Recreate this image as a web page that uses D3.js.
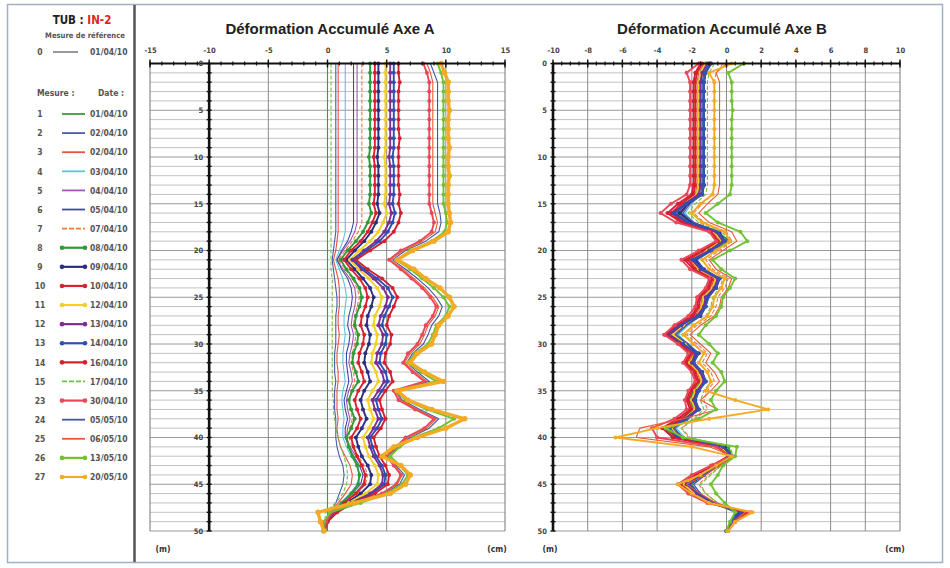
<!DOCTYPE html>
<html><head><meta charset="utf-8">
<script src="https://cdn.jsdelivr.net/npm/d3@7"></script>
<style>
body{margin:0;background:#fff;}
svg{display:block;}
.nar{font-family:"DejaVu Sans Condensed","Liberation Sans Narrow","Arial Narrow",sans-serif;font-weight:bold;}
.ttl{font-family:"Liberation Sans",Arial,sans-serif;font-weight:bold;}
</style>
</head><body>
<svg id="c" width="950" height="568"></svg>
<script>
// ---------- DATA ----------
const depths = [0,1,2,3,4,5,6,7,8,9,10,11,12,13,14,15,16,17,18,19,20,21,22,23,24,25,26,27,28,29,30,31,32,33,34,35,36,37,38,39,40,41,42,43,44,45,46,47,48,49,50];
const depthTicks = [0,5,10,15,20,25,30,35,40,45,50];
const ticksA = [-15,-10,-5,0,5,10,15];
const ticksB = [-10,-8,-6,-4,-2,0,2,4,6,8,10];
const seriesIds = [1,2,3,4,5,6,7,8,9,10,11,12,13,14,15,23,24,25,26,27];
const seriesDates = ["01/04/10","02/04/10","02/04/10","03/04/10","04/04/10","05/04/10","07/04/10","08/04/10","09/04/10","10/04/10","12/04/10","13/04/10","14/04/10","16/04/10","17/04/10","30/04/10","05/05/10","06/05/10","13/05/10","20/05/10"];
const seriesColors = ["#3c9a3c","#4b5bb0","#e8553a","#5cc6d6","#a455b4","#3d4ba6","#f07a3c","#2f9a3a","#2a2f80","#d8222e","#f2d024","#7e2f8c","#2f4fb2","#d41f32","#6cc244","#e8485a","#4453ac","#e85a34","#72c234","#f4aa23"];
const seriesMarkers = [false,false,false,false,false,false,false,true,true,true,true,true,true,true,false,true,false,false,true,true];
const seriesDashed = [false,false,false,false,false,false,true,false,false,false,false,false,false,false,true,false,false,false,false,false];

// Axe A values (cm) per depth 0..50 m
const a01 = [0,0,0,0,0,0,0,0,0,0, 0,0,0,0,0,0,0,0,0,0, 0,0,0,0,0,0,0,0,0,0, 0,0,0,0,0,0,0,0,0,0, 0,0,0,0,0,0,0,0,0,0, 0];
const a02 = [0.7,0.7,0.7,0.7,0.7,0.7,0.7,0.7,0.7,0.7, 0.7,0.7,0.7,0.7,0.7,0.7,0.7,0.7,0.7,0.6, 0.5,0.4,0.5,0.6,0.7,0.8,0.8,0.7,0.7,0.7, 0.7,0.6,0.6,0.6,0.7,0.6,0.6,0.6,0.7,0.7, 0.7,0.8,1.0,1.3,1.4,1.3,1.0,0.7,0.3,0.0, -0.1];
const a03 = [0.9,0.9,0.9,0.9,0.9,0.9,0.9,0.9,0.9,0.9, 0.9,0.9,0.9,0.9,0.9,0.9,0.9,0.9,0.9,0.8, 0.7,0.5,0.7,0.9,1.0,1.0,1.0,0.9,0.9,1.0, 0.9,0.8,0.8,0.9,0.9,0.8,0.8,0.8,0.9,0.8, 0.9,1.1,1.5,1.9,2.1,2.0,1.5,0.9,0.3,-0.1, -0.2];
const a04 = [1.5,1.5,1.5,1.5,1.5,1.5,1.5,1.5,1.5,1.5, 1.5,1.5,1.5,1.5,1.5,1.5,1.5,1.5,1.5,1.3, 1.0,0.7,1.0,1.3,1.5,1.6,1.5,1.4,1.4,1.5, 1.4,1.3,1.3,1.4,1.5,1.3,1.2,1.3,1.4,1.3, 1.3,1.6,2.0,2.5,2.7,2.5,1.9,1.1,0.4,0.0, -0.2];
const a05 = [2.5,2.5,2.5,2.5,2.5,2.5,2.5,2.5,2.5,2.5, 2.5,2.5,2.5,2.5,2.5,2.5,2.5,2.5,2.3,1.9, 1.3,0.8,1.3,1.9,2.3,2.4,2.3,2.1,2.0,2.2, 2.1,1.9,1.8,2.0,2.1,1.8,1.6,1.7,1.9,1.7, 1.6,1.9,2.4,2.9,3.2,3.0,2.3,1.3,0.5,0.0, -0.2];
const a06 = [2.2,2.2,2.2,2.2,2.2,2.2,2.2,2.2,2.2,2.2, 2.2,2.2,2.2,2.2,2.2,2.2,2.2,2.2,2.0,1.7, 1.2,0.8,1.2,1.7,2.0,2.1,2.0,1.8,1.7,1.9, 1.8,1.6,1.6,1.7,1.8,1.6,1.4,1.5,1.7,1.5, 1.5,1.8,2.2,2.7,3.0,2.8,2.1,1.2,0.4,0.0, -0.2];
const a07 = [2.9,2.9,2.9,2.9,2.9,2.9,2.9,2.9,2.9,2.9, 2.9,2.9,2.9,2.9,2.9,2.9,2.9,2.9,2.6,2.1, 1.5,0.9,1.5,2.1,2.5,2.7,2.5,2.3,2.2,2.4, 2.3,2.1,2.0,2.2,2.3,2.0,1.8,1.9,2.1,1.9, 1.8,2.1,2.6,3.1,3.4,3.2,2.5,1.4,0.5,0.0, -0.2];
const a08 = [3.6,3.6,3.6,3.6,3.6,3.6,3.6,3.6,3.6,3.6, 3.5,3.6,3.6,3.6,3.6,3.5,3.7,3.4,3.0,2.4, 1.7,1.1,1.6,2.2,2.7,2.9,2.7,2.4,2.3,2.6, 2.5,2.2,2.1,2.4,2.6,2.1,1.8,2.0,2.3,2.0, 1.6,1.8,2.1,2.5,2.7,2.6,2.0,1.2,0.4,-0.1, -0.3];
const a09 = [4.3,4.3,4.3,4.3,4.3,4.3,4.3,4.3,4.3,4.3, 4.2,4.3,4.3,4.3,4.3,4.2,4.4,4.1,3.7,3.1, 2.3,1.6,2.3,3.0,3.6,3.9,3.7,3.4,3.3,3.6, 3.5,3.2,3.1,3.4,3.6,3.1,2.8,3.0,3.3,2.9, 2.4,2.6,2.9,3.4,3.7,3.6,2.8,1.6,0.6,-0.1, -0.3];
const a10 = [4.0,4.0,4.0,4.0,4.0,4.0,4.0,4.0,4.0,4.0, 3.9,4.0,4.0,4.0,4.0,3.9,4.1,3.8,3.4,2.8, 2.0,1.4,2.0,2.7,3.2,3.4,3.2,2.9,2.8,3.1, 3.0,2.7,2.6,2.9,3.1,2.6,2.3,2.5,2.8,2.5, 2.0,2.2,2.5,2.9,3.2,3.1,2.4,1.4,0.5,-0.1, -0.3];
const a11 = [4.9,4.9,4.9,4.9,4.9,4.9,4.9,4.9,4.9,4.9, 4.8,4.9,4.9,4.9,4.9,4.8,5.0,4.7,4.3,3.6, 2.7,1.9,2.6,3.5,4.2,4.6,4.4,4.0,3.9,4.2, 4.1,3.8,3.7,4.1,4.3,3.8,3.4,3.6,3.9,3.5, 3.0,3.2,3.5,4.0,4.3,4.2,3.2,1.8,0.7,0.0, -0.3];
const a12 = [5.3,5.3,5.3,5.3,5.3,5.3,5.3,5.3,5.3,5.3, 5.2,5.3,5.3,5.3,5.3,5.2,5.4,5.2,4.8,4.1, 3.1,2.1,2.9,3.9,4.7,5.1,4.9,4.5,4.3,4.7, 4.6,4.2,4.1,4.6,4.8,4.3,3.8,4.0,4.3,3.9, 3.4,3.6,3.9,4.4,4.7,4.6,3.6,2.0,0.7,0.0, -0.3];
const a13 = [5.6,5.6,5.6,5.6,5.6,5.6,5.6,5.6,5.6,5.6, 5.5,5.6,5.6,5.6,5.6,5.5,5.7,5.5,5.1,4.4, 3.3,2.2,3.1,4.2,5.1,5.5,5.2,4.8,4.6,5.0, 4.9,4.5,4.4,4.9,5.1,4.6,4.1,4.3,4.6,4.2, 3.6,3.8,4.1,4.6,4.9,4.8,3.8,2.1,0.8,0.0, -0.3];
const a14 = [6.0,6.0,6.1,6.0,6.0,6.0,6.0,6.0,6.1,6.0, 6.0,6.0,6.0,6.0,6.1,6.0,6.2,6.0,5.6,4.8, 3.6,2.4,3.4,4.6,5.5,5.9,5.6,5.2,5.0,5.4, 5.3,4.9,4.8,5.3,5.5,4.9,4.4,4.6,4.9,4.5, 3.9,4.1,4.4,4.9,5.2,5.1,4.0,2.2,0.8,0.0, -0.3];
const a15 = [0.3,0.3,0.3,0.3,0.3,0.3,0.3,0.3,0.3,0.3, 0.3,0.3,0.3,0.3,0.3,0.3,0.3,0.3,0.3,0.3, 0.3,0.3,0.3,0.4,0.4,0.4,0.4,0.4,0.4,0.4, 0.4,0.4,0.4,0.4,0.4,0.4,0.5,0.5,0.6,0.7, 0.9,1.1,1.4,1.6,1.7,1.6,1.3,0.7,-0.2,-0.2, -0.1];
const a23 = [8.1,8.4,8.6,8.6,8.6,8.6,8.6,8.6,8.6,8.6, 8.6,8.6,8.6,8.6,8.6,8.6,8.8,9.0,8.8,7.8, 6.2,5.2,6.2,7.1,8.0,8.7,9.2,8.9,8.3,8.0, 7.6,6.8,6.4,7.2,8.2,5.6,6.0,7.4,9.0,8.2, 6.6,5.8,5.0,5.6,6.2,5.8,4.6,2.4,0.4,-0.1, -0.3];
const a24 = [8.7,9.0,9.3,9.3,9.3,9.3,9.3,9.3,9.3,9.3, 9.3,9.3,9.3,9.3,9.3,9.3,9.5,9.6,9.4,8.3, 6.6,5.5,6.6,7.6,8.5,9.2,9.7,9.4,8.8,8.5, 8.1,7.2,6.7,7.6,8.6,5.8,6.3,7.8,9.4,8.6, 7.0,6.0,5.1,5.8,6.5,6.1,4.8,2.6,0.5,-0.1, -0.3];
const a25 = [8.4,8.7,8.9,8.9,8.9,8.9,8.9,8.9,8.9,8.9, 8.9,8.9,8.9,8.9,8.9,8.9,9.1,9.3,9.1,8.0, 6.4,5.3,6.4,7.3,8.2,8.9,9.4,9.1,8.5,8.2, 7.8,7.0,6.5,7.4,8.4,5.7,6.2,7.6,9.2,8.4, 6.8,5.9,5.0,5.7,6.3,5.9,4.7,2.5,0.4,-0.1, -0.3];
const a26 = [9.3,9.6,9.8,9.8,9.8,9.8,9.8,9.8,9.8,9.8, 9.8,9.8,9.8,9.8,9.8,9.8,10.0,10.1,9.9,8.8, 7.0,5.8,7.0,8.0,9.0,9.8,10.3,10.0,9.2,8.9, 8.5,7.4,6.8,7.9,9.2,5.8,6.6,8.4,10.7,9.4, 7.3,6.1,5.3,6.1,6.8,6.3,5.0,2.8,0.2,-0.3, -0.4];
const a27 = [9.6,9.9,10.2,10.2,10.2,10.3,10.2,10.2,10.2,10.3, 10.2,10.2,10.3,10.2,10.2,10.2,10.3,10.4,10.2,9.0, 7.2,5.9,7.3,8.3,9.5,10.3,10.7,10.2,9.4,9.1, 8.8,7.6,7.0,8.2,9.8,5.9,6.8,8.8,11.6,10.0, 7.6,5.6,4.6,6.2,7.0,6.6,5.3,2.2,-0.8,-0.6, -0.3];

// Axe B values (cm) per depth 0..50 m
const b01 = [-1.2,-1.5,-1.6,-1.6,-1.6,-1.6,-1.6,-1.6,-1.6,-1.6, -1.6,-1.6,-1.6,-1.6,-1.7,-2.2,-2.6,-2.1,-0.9,-0.4, -1.1,-1.8,-1.5,-0.7,-0.9,-1.3,-1.4,-1.6,-2.3,-2.8, -2.3,-1.8,-2.0,-1.6,-1.4,-1.8,-2.0,-1.8,-2.3,-3.0, -2.6,-0.3,0.1,-0.6,-1.4,-2.0,-1.6,-0.8,0.5,0.3, 0.0];
const b02 = [-1.1,-1.4,-1.5,-1.5,-1.5,-1.5,-1.5,-1.5,-1.5,-1.5, -1.5,-1.5,-1.5,-1.5,-1.6,-2.2,-2.6,-2.0,-0.7,-0.3, -1.0,-1.8,-1.4,-0.6,-0.8,-1.2,-1.3,-1.6,-2.4,-3.0, -2.3,-1.7,-2.0,-1.5,-1.3,-1.7,-1.9,-1.7,-2.3,-3.1, -2.6,-0.2,0.2,-0.5,-1.3,-2.1,-1.6,-0.7,0.6,0.3, 0.0];
const b03 = [-1.3,-1.6,-1.7,-1.7,-1.7,-1.7,-1.7,-1.7,-1.7,-1.7, -1.7,-1.7,-1.7,-1.7,-1.8,-2.5,-3.0,-2.3,-0.8,-0.4, -1.2,-2.1,-1.7,-0.7,-0.9,-1.4,-1.5,-1.8,-2.6,-3.2, -2.5,-1.9,-2.2,-1.7,-1.5,-1.9,-2.1,-1.9,-2.5,-3.3, -2.8,-0.3,0.2,-0.6,-1.5,-2.4,-1.8,-0.8,0.8,0.4, 0.0];
const b04 = [-1.0,-1.3,-1.4,-1.4,-1.4,-1.4,-1.4,-1.4,-1.4,-1.4, -1.4,-1.4,-1.4,-1.4,-1.5,-2.0,-2.4,-1.9,-0.6,-0.2, -0.9,-1.7,-1.3,-0.5,-0.7,-1.1,-1.2,-1.5,-2.2,-2.8, -2.2,-1.6,-1.9,-1.4,-1.2,-1.6,-1.8,-1.6,-2.2,-2.9, -2.4,-0.2,0.2,-0.5,-1.2,-1.9,-1.5,-0.7,0.5,0.3, 0.0];
const b05 = [-1.1,-1.4,-1.5,-1.5,-1.5,-1.5,-1.5,-1.5,-1.5,-1.5, -1.5,-1.5,-1.5,-1.5,-1.6,-2.3,-2.8,-2.1,-0.7,-0.3, -1.1,-1.9,-1.5,-0.6,-0.8,-1.2,-1.4,-1.7,-2.5,-3.1, -2.4,-1.8,-2.1,-1.6,-1.4,-1.8,-2.0,-1.8,-2.4,-3.2, -2.7,-0.3,0.2,-0.6,-1.4,-2.2,-1.7,-0.8,0.6,0.3, 0.0];
const b06 = [-1.0,-1.3,-1.4,-1.4,-1.4,-1.4,-1.4,-1.4,-1.4,-1.4, -1.4,-1.4,-1.4,-1.4,-1.5,-2.2,-2.7,-2.0,-0.6,-0.2, -1.0,-1.8,-1.4,-0.5,-0.7,-1.1,-1.3,-1.6,-2.4,-3.0, -2.3,-1.7,-2.0,-1.5,-1.3,-1.7,-1.9,-1.7,-2.3,-3.1, -2.6,-0.2,0.3,-0.5,-1.3,-2.1,-1.6,-0.7,0.6,0.3, 0.0];
const b07 = [-0.2,-0.6,-0.7,-0.7,-0.7,-0.7,-0.7,-0.7,-0.7,-0.7, -0.7,-0.7,-0.7,-0.7,-0.8,-1.4,-1.9,-1.3,0.0,0.3, -0.4,-1.2,-0.8,0.1,-0.1,-0.5,-0.6,-0.9,-1.7,-2.3, -1.7,-1.1,-1.4,-0.9,-0.7,-1.1,-1.3,-1.1,-1.8,-2.6, -2.1,0.0,0.4,-0.3,-1.0,-1.6,-1.2,-0.5,0.7,0.4, 0.1];
const b08 = [-1.2,-1.5,-1.6,-1.6,-1.6,-1.6,-1.6,-1.6,-1.6,-1.6, -1.6,-1.6,-1.6,-1.6,-1.7,-2.4,-2.9,-2.2,-0.6,0.2, -0.9,-1.9,-1.5,-0.5,-0.8,-1.3,-1.4,-1.7,-2.6,-3.2, -2.5,-1.8,-2.1,-1.6,-1.4,-1.9,-2.1,-1.8,-2.6,-3.6, -3.0,0.1,0.3,-0.6,-1.5,-2.3,-1.7,-0.8,0.8,0.4, 0.0];
const b09 = [-0.9,-1.2,-1.3,-1.3,-1.3,-1.3,-1.3,-1.3,-1.3,-1.3, -1.3,-1.3,-1.3,-1.3,-1.4,-2.2,-2.7,-2.0,-0.4,-0.1, -0.9,-1.8,-1.3,-0.4,-0.6,-1.1,-1.2,-1.5,-2.5,-3.3, -2.4,-1.6,-1.9,-1.4,-1.2,-1.6,-1.8,-1.6,-2.3,-3.2, -2.7,-0.1,0.3,-0.5,-1.3,-2.2,-1.6,-0.7,0.7,0.3, 0.0];
const b10 = [-1.4,-1.7,-1.8,-1.8,-1.8,-1.8,-1.8,-1.8,-1.8,-1.8, -1.8,-1.8,-1.8,-1.8,-1.9,-2.6,-3.2,-2.5,-0.9,-0.5, -1.3,-2.2,-1.8,-0.8,-1.0,-1.5,-1.6,-1.9,-2.7,-3.3, -2.6,-2.0,-2.3,-1.8,-1.6,-2.0,-2.2,-2.0,-2.6,-3.4, -2.9,-0.4,0.1,-0.8,-1.7,-2.6,-2.0,-1.0,1.0,0.4, 0.0];
const b11 = [-1.2,-1.5,-1.6,-1.6,-1.6,-1.6,-1.6,-1.6,-1.6,-1.6, -1.6,-1.6,-1.6,-1.6,-1.7,-2.4,-3.0,-2.3,-0.7,-0.3, -1.1,-2.0,-1.6,-0.6,-0.8,-1.3,-1.4,-1.7,-2.5,-3.1, -2.4,-1.8,-2.1,-1.6,-1.4,-1.8,-2.0,-1.8,-2.4,-3.2, -2.7,-0.3,0.2,-0.7,-1.5,-2.4,-1.8,-0.9,0.9,0.4, 0.0];
const b12 = [-1.1,-1.4,-1.5,-1.5,-1.5,-1.5,-1.5,-1.5,-1.5,-1.5, -1.5,-1.5,-1.5,-1.5,-1.6,-2.4,-3.1,-2.3,-0.6,-0.2, -1.0,-2.0,-1.5,-0.5,-0.7,-1.2,-1.3,-1.7,-2.6,-3.3, -2.5,-1.8,-2.0,-1.5,-1.3,-1.7,-1.9,-1.7,-2.4,-3.3, -2.8,-0.2,0.3,-0.6,-1.4,-2.3,-1.7,-0.8,0.9,0.4, 0.0];
const b13 = [-0.9,-1.2,-1.3,-1.3,-1.3,-1.3,-1.3,-1.3,-1.3,-1.3, -1.3,-1.3,-1.3,-1.3,-1.4,-2.3,-3.0,-2.2,-0.5,-0.1, -0.9,-1.9,-1.4,-0.4,-0.6,-1.1,-1.2,-1.6,-2.7,-3.5, -2.5,-1.7,-1.9,-1.4,-1.2,-1.6,-1.8,-1.6,-2.3,-3.3, -2.8,-0.2,0.3,-0.5,-1.3,-2.2,-1.6,-0.7,0.8,0.3, 0.0];
const b14 = [-1.5,-1.8,-1.9,-1.9,-1.9,-1.9,-1.9,-1.9,-1.9,-1.9, -1.9,-1.9,-1.9,-1.9,-2.0,-2.8,-3.4,-2.6,-0.9,-0.5, -1.4,-2.4,-1.9,-0.9,-1.1,-1.6,-1.7,-2.0,-2.9,-3.5, -2.7,-2.1,-2.4,-1.9,-1.7,-2.1,-2.3,-2.1,-2.8,-3.7, -3.1,-0.5,0.1,-0.8,-1.8,-2.7,-2.1,-1.0,1.2,0.5, 0.0];
const b15 = [-0.7,-1.0,-1.1,-1.1,-1.1,-1.1,-1.1,-1.1,-1.1,-1.1, -1.1,-1.1,-1.1,-1.1,-1.2,-1.8,-2.2,-1.6,-0.3,0.3, -0.6,-1.4,-1.0,-0.2,-0.4,-0.8,-0.9,-1.2,-1.9,-2.4, -1.9,-1.3,-1.6,-1.1,-0.9,-1.3,-1.5,-1.3,-1.9,-2.6, -2.2,0.2,0.4,-0.3,-0.9,-1.5,-1.2,-0.5,0.6,0.3, 0.0];
const b23 = [-1.6,-2.3,-2.1,-2.1,-2.1,-2.1,-2.1,-2.1,-2.1,-2.1, -2.1,-2.1,-2.1,-2.1,-2.3,-3.2,-3.8,-2.9,-1.0,-0.6, -1.6,-2.6,-2.1,-1.0,-1.2,-1.7,-1.8,-2.2,-3.0,-3.6, -2.8,-2.2,-2.5,-2.0,-1.8,-2.2,-2.4,-2.3,-3.0,-4.3, -4.0,-0.6,0.2,-0.9,-2.0,-2.8,-2.2,-1.1,1.4,0.5, 0.1];
const b24 = [-1.0,-1.2,-1.3,-1.3,-1.3,-1.3,-1.3,-1.3,-1.3,-1.3, -1.3,-1.3,-1.3,-1.3,-1.4,-2.1,-2.5,-1.9,-0.5,-0.1, -0.8,-1.7,-1.3,-0.4,-0.6,-1.0,-1.2,-1.5,-2.3,-2.9, -2.2,-1.6,-1.9,-1.4,-1.2,-1.6,-1.8,-1.6,-2.2,-3.0, -2.5,-0.2,0.2,-0.5,-1.2,-1.9,-1.5,-0.7,0.6,0.3, 0.0];
const b25 = [0.0,-0.6,-0.4,-0.4,-0.4,-0.4,-0.4,-0.4,-0.4,-0.4, -0.4,-0.4,-0.4,-0.4,-0.5,-1.1,-1.6,-1.0,0.3,0.6, -0.2,-1.0,-0.6,0.3,0.1,-0.3,-0.4,-0.7,-1.5,-2.1, -1.5,-0.9,-1.2,-0.7,-0.4,-0.9,-1.5,-0.5,-2.5,-5.0, -5.2,-1.0,0.4,-0.4,-1.2,-2.3,-1.5,-0.6,1.1,0.4, 0.1];
const b26 = [1.0,0.1,0.3,0.3,0.3,0.35,0.3,0.3,0.3,0.3, 0.3,0.3,0.3,0.3,0.2,-0.5,-1.2,-0.5,0.8,1.2, 0.2,-0.8,-0.3,0.5,0.2,-0.2,-0.3,-0.6,-1.2,-1.6, -1.0,-0.5,-0.8,-0.3,-0.1,-0.6,-0.9,-0.6,-1.6,-3.5, -2.5,0.6,0.5,-0.2,-0.5,-0.9,-0.6,-0.1,0.5,0.2, 0.0];
const b27 = [0.3,-1.0,-0.7,-0.7,-0.7,-0.7,-0.7,-0.7,-0.7,-0.7, -0.7,-0.7,-0.7,-0.7,-0.8,-1.5,-2.0,-1.4,-0.1,0.2, -0.6,-1.4,-1.0,-0.1,-0.3,-0.7,-0.8,-1.1,-1.9,-2.5, -1.9,-1.3,-1.6,-1.1,-0.9,-1.2,0.5,2.4,-1.0,-4.0, -6.4,-2.0,0.3,-0.6,-1.5,-2.8,-2.0,-1.0,1.5,0.5, 0.1];

const valuesA = [a01,a02,a03,a04,a05,a06,a07,a08,a09,a10,a11,a12,a13,a14,a15,a23,a24,a25,a26,a27];
const valuesB = [b01,b02,b03,b04,b05,b06,b07,b08,b09,b10,b11,b12,b13,b14,b15,b23,b24,b25,b26,b27];

// ---------- DRAW ----------
const svg = d3.select("#c");
svg.append("rect").attr("x",7.5).attr("y",4.5).attr("width",935).attr("height",558)
  .attr("fill","none").attr("stroke","#9fb1c3").attr("stroke-width",1.5);
svg.append("line").attr("x1",134.5).attr("x2",134.5).attr("y1",5).attr("y2",562)
  .attr("stroke","#555").attr("stroke-width",2.5);

// Legend
const lg = svg.append("g").attr("class","nar");
const t1 = lg.append("text").attr("x",82).attr("y",24).attr("text-anchor","middle").attr("font-size",11.5).attr("fill","#222");
t1.append("tspan").text("TUB : ");
t1.append("tspan").attr("fill","#e0231e").text("IN-2");
lg.append("text").attr("x",85).attr("y",38).attr("text-anchor","middle").attr("font-size",7.6).attr("fill","#555").text("Mesure de référence");
lg.append("text").attr("x",40).attr("y",55).attr("text-anchor","middle").attr("font-size",8.5).attr("fill","#555").text("0");
lg.append("line").attr("x1",53).attr("x2",78).attr("y1",52).attr("y2",52).attr("stroke","#555").attr("stroke-width",1.2);
lg.append("text").attr("x",90).attr("y",55).attr("font-size",8.5).attr("fill","#555").text("01/04/10");
lg.append("text").attr("x",37).attr("y",96).attr("font-size",8.5).attr("fill","#555").text("Mesure :");
lg.append("text").attr("x",98).attr("y",96).attr("font-size",8.5).attr("fill","#555").text("Date :");
const ly = d3.scaleLinear().domain([0,19]).range([114,477]);
const items = lg.selectAll("g.it").data(seriesIds).join("g").attr("transform",(d,i)=>`translate(0,${ly(i)})`);
items.append("text").attr("x",40).attr("y",3.2).attr("text-anchor","middle").attr("font-size",8.5).attr("fill","#555").text(d=>d);
items.append("line").attr("x1",62).attr("x2",85).attr("y1",0).attr("y2",0)
  .attr("stroke",(d,i)=>seriesColors[i]).attr("stroke-width",(d,i)=>seriesMarkers[i]?2.2:1.8)
  .attr("stroke-dasharray",(d,i)=>seriesDashed[i]?"5,2":null);
items.filter((d,i)=>seriesMarkers[i]).each(function(d){
  const i = seriesIds.indexOf(d);
  d3.select(this).selectAll("circle").data([62,85]).join("circle").attr("cx",v=>v).attr("cy",0).attr("r",2.3).attr("fill",seriesColors[i]);
});
items.append("text").attr("x",90).attr("y",3.2).attr("font-size",8.5).attr("fill","#555").text((d,i)=>seriesDates[i]);

function panel(cfg){
  const x = d3.scaleLinear().domain(cfg.domain).range(cfg.range);
  const y = d3.scaleLinear().domain([0,50]).range([63.5,531]);
  const g = svg.append("g");
  g.selectAll("line.h").data(depths.filter(d=>d>0)).join("line")
    .attr("x1",cfg.range[0]).attr("x2",cfg.range[1]).attr("y1",d=>y(d)).attr("y2",d=>y(d))
    .attr("stroke",d=>d%5===0?"#9a9a9a":"#c2c2c2").attr("stroke-width",1);
  g.selectAll("line.v").data(cfg.grid).join("line")
    .attr("x1",d=>x(d)).attr("x2",d=>x(d)).attr("y1",y(0)).attr("y2",y(50))
    .attr("stroke","#8a8a8a").attr("stroke-width",1);
  g.append("line").attr("x1",cfg.range[0]).attr("x2",cfg.range[0]).attr("y1",y(0)).attr("y2",y(50)).attr("stroke","#777").attr("stroke-width",1);
  g.append("line").attr("x1",cfg.range[1]).attr("x2",cfg.range[1]).attr("y1",y(0)).attr("y2",y(50)).attr("stroke","#777").attr("stroke-width",1);
  const line = d3.line().x(v=>x(v)).y((v,i)=>y(depths[i]));
  cfg.values.forEach((vals,i)=>{
    const thick = cfg.thick.includes(i);
    g.append("path").attr("d",line(vals)).attr("fill","none")
      .attr("stroke",seriesColors[i])
      .attr("stroke-width",thick?3.4:(seriesMarkers[i]?1.9:1.1))
      .attr("stroke-dasharray",seriesDashed[i]?"4,2":null)
      .attr("stroke-linejoin","round");
    if(seriesMarkers[i]){
      g.selectAll(null).data(vals).join("circle")
        .attr("cx",v=>x(v)).attr("cy",(v,k)=>y(depths[k])).attr("r",thick?2.7:2.0)
        .attr("fill",seriesColors[i]);
    }
  });
  g.append("line").attr("x1",cfg.range[0]).attr("x2",cfg.range[1]).attr("y1",y(0)).attr("y2",y(0)).attr("stroke","#111").attr("stroke-width",2);
  g.selectAll("line.mt").data(cfg.minor).join("line")
    .attr("x1",d=>x(d)).attr("x2",d=>x(d)).attr("y1",y(0)-2).attr("y2",y(0)+2).attr("stroke","#111").attr("stroke-width",1.2);
  g.selectAll("line.Mt").data(cfg.ticks).join("line")
    .attr("x1",d=>x(d)).attr("x2",d=>x(d)).attr("y1",y(0)-4).attr("y2",y(0)+4).attr("stroke","#111").attr("stroke-width",1.4);
  const ax = g.append("g").attr("transform",`translate(0,${y(0)})`).attr("class","nar")
    .call(d3.axisTop(x).tickValues(cfg.ticks).tickSize(0).tickPadding(11).tickFormat(d=>d));
  ax.select(".domain").remove();
  ax.selectAll("text").attr("font-size",7.5).attr("fill","#444").attr("font-family",null).attr("font-weight","bold");
  const dx = x(cfg.axisAt);
  g.append("line").attr("x1",dx).attr("x2",dx).attr("y1",y(0)).attr("y2",y(50)).attr("stroke","#111").attr("stroke-width",2.6);
  g.selectAll("line.dt").data(depths).join("line")
    .attr("x1",dx-2.5).attr("x2",dx+2.5).attr("y1",d=>y(d)).attr("y2",d=>y(d)).attr("stroke","#111").attr("stroke-width",1.4);
  const ay = g.append("g").attr("transform",`translate(${dx},0)`).attr("class","nar")
    .call(d3.axisLeft(y).tickValues(depthTicks).tickSize(0).tickPadding(6).tickFormat(d=>d));
  ay.select(".domain").remove();
  ay.selectAll("text").attr("font-size",7.5).attr("fill","#444").attr("font-family",null).attr("font-weight","bold");
  svg.append("text").attr("class","ttl").attr("x",cfg.titleX).attr("y",34).attr("text-anchor","middle")
    .attr("font-size",15).attr("fill","#222").text(cfg.title);
  svg.append("text").attr("class","nar").attr("x",cfg.mX).attr("y",552).attr("text-anchor","middle").attr("font-size",8.5).attr("fill","#333").text("(m)");
  svg.append("text").attr("class","nar").attr("x",cfg.cmX).attr("y",552).attr("text-anchor","middle").attr("font-size",8.5).attr("fill","#333").text("(cm)");
}

panel({domain:[-15,15], range:[150,505], grid:[-5,0,5,10], ticks:ticksA,
  minor:d3.range(-15,15.01,1), axisAt:-10, values:valuesA, thick:[19],
  title:"Déformation Accumulé Axe A", titleX:330, mX:163, cmX:497});
panel({domain:[-10,10], range:[553,900], grid:[-8,-6,-4,-2,0,2,4,6,8], ticks:ticksB,
  minor:d3.range(-10,10.01,0.5), axisAt:-10, values:valuesB, thick:[],
  title:"Déformation Accumulé Axe B", titleX:722, mX:550, cmX:895});
</script>
</body></html>
